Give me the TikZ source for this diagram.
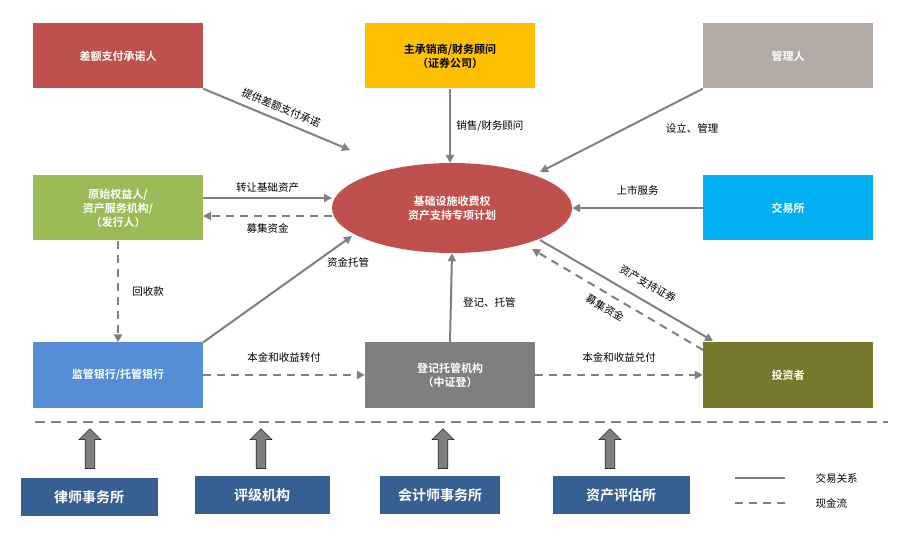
\documentclass[tikz,border=0pt]{standalone}
\usepackage{fontspec}
\setmainfont{Noto Sans CJK SC}
\newfontfamily\cjkb{Noto Sans CJK SC Bold}
\usetikzlibrary{arrows.meta,shapes.geometric,shapes.arrows}
\definecolor{cred}{HTML}{C0504D}
\definecolor{cyel}{HTML}{FFC000}
\definecolor{ctan}{HTML}{B5ABA6}
\definecolor{cgrn}{HTML}{9BBB59}
\definecolor{ccyan}{HTML}{00B0F0}
\definecolor{cblu}{HTML}{558ED5}
\definecolor{cgry}{HTML}{7F7F7F}
\definecolor{coli}{HTML}{77782B}
\definecolor{cnavy}{HTML}{376092}
\definecolor{cline}{HTML}{808080}
\tikzset{
 box/.style={minimum width=170pt,minimum height=65pt,inner sep=0pt,align=center,text=white,font=\cjkb\fontsize{11}{14}\selectfont},
 bbox/.style={minimum width=137pt,minimum height=38pt,inner sep=0pt,fill=cnavy,text=white,font=\cjkb\fontsize{14}{16}\selectfont},
 rel/.style={draw=cline,line width=2pt,-{Triangle[length=8pt,width=8pt]}},
 cash/.style={rel,dash pattern=on 8pt off 6pt},
 lab/.style={font=\fontsize{10.5}{12}\selectfont,text=black},
 blk/.style={single arrow,draw=black,fill=cgry,shape border rotate=90,minimum height=40pt,minimum width=22pt,single arrow head extend=4pt,single arrow tip angle=90,inner sep=3pt}
}
\begin{document}
\begin{tikzpicture}[x=1pt,y=-1pt]
\useasboundingbox (0,0) rectangle (908,537);
\node[box,fill=cred] (ce) at (118,56) {差额支付承诺人};
\node[box,fill=cyel,text=black] (zc) at (450,56) {主承销商/财务顾问\\（证券公司）};
\node[box,fill=ctan] (gl) at (788,56) {管理人};
\node[box,fill=cgrn] (ys) at (118,208) {原始权益人/\\资产服务机构/\\（发行人）};
\node[box,fill=ccyan] (jy) at (788,208) {交易所};
\node[ellipse,fill=cred,minimum width=240pt,minimum height=90pt,text=white,font=\cjkb\fontsize{11}{14}\selectfont,align=center] (el) at (452,208) {基础设施收费权\\资产支持专项计划};
\node[box,fill=cblu] (jg) at (118,375) {监管银行/托管银行};
\node[box,fill=cgry] (dj) at (450,375) {登记托管机构\\（中证登）};
\node[box,fill=coli] (tz) at (788,375) {投资者};

\coordinate (e1) at (350,150); \coordinate (e2) at (540,172);
\coordinate (e3) at (352,236);
\coordinate (ys1) at (203,198); \coordinate (ys2) at (203,216);
\coordinate (el1) at (332,198); \coordinate (el2) at (332,216);
\coordinate (s1) at (540,240); \coordinate (s2) at (713,341);
\coordinate (s3) at (703,350); \coordinate (s4) at (532,249);
\draw[rel] (ce.south east) -- (e1) node[lab,midway,above,sloped,yshift=3pt] {提供差额支付承诺};
\draw[rel] (zc.south) -- (450,163) node[lab,midway,right,xshift=2pt] {销售/财务顾问};
\draw[rel] (gl.south west) -- (e2);
\node[lab] (lgl) at (692,128) {设立、管理};
\draw[rel] (jy.west) -- (el.east) node[lab,midway,above,yshift=8pt] {上市服务};
\draw[rel] (ys1) -- (el1) node[lab,midway,above,yshift=1pt] {转让基础资产};
\draw[cash] (el2) -- (ys2) node[lab,midway,below,yshift=-3pt] {募集资金};
\draw[cash] (ys.south) -- (jg.north) node[lab,midway,right,xshift=10pt] {回收款};
\draw[rel] (jg.north east) -- (e3) node[lab,pos=0.75,right,xshift=8pt] {资金托管};
\draw[rel] (dj.north) -- (el.south) node[lab,pos=0.45,right,xshift=8pt] {登记、托管};
\draw[rel] (s1) -- (s2);
\draw[cash] (s3) -- (s4);
\node[lab,rotate=-30] (ls1) at (648,284) {资产支持证券};
\node[lab,rotate=-30] (ls2) at (605,308) {募集资金};
\draw[cash] (jg.east) -- (dj.west) node[lab,midway,above,yshift=8pt] {本金和收益转付};
\draw[cash] (dj.east) -- (tz.west) node[lab,midway,above,yshift=8pt] {本金和收益兑付};

\coordinate (dl1) at (35,422); \coordinate (dl2) at (888,422);
\draw[cline,line width=2pt,dash pattern=on 10pt off 6pt] (dl1) -- (dl2);
\node[bbox] (b1) at (89,497) {律师事务所};
\node[bbox,minimum width=135pt] (b2) at (262,495) {评级机构};
\node[bbox,minimum width=120pt] (b3) at (440,495) {会计师事务所};
\node[bbox] (b4) at (621,495) {资产评估所};
\node[blk] (a1) at (90,451) {}; \node[blk] (a2) at (261,451) {};
\node[blk] (a3) at (443,451) {}; \node[blk] (a4) at (610,451) {};

\coordinate (l1) at (735,478); \coordinate (l2) at (785,478);
\coordinate (l3) at (735,503); \coordinate (l4) at (785,503);
\draw[cline,line width=2pt] (l1) -- (l2);
\draw[cline,line width=2pt,dash pattern=on 8pt off 6pt] (l3) -- (l4);
\node[lab,anchor=west] (t1) at (812,478) {交易关系};
\node[lab,anchor=west] (t2) at (812,503) {现金流};
\end{tikzpicture}
\end{document}
